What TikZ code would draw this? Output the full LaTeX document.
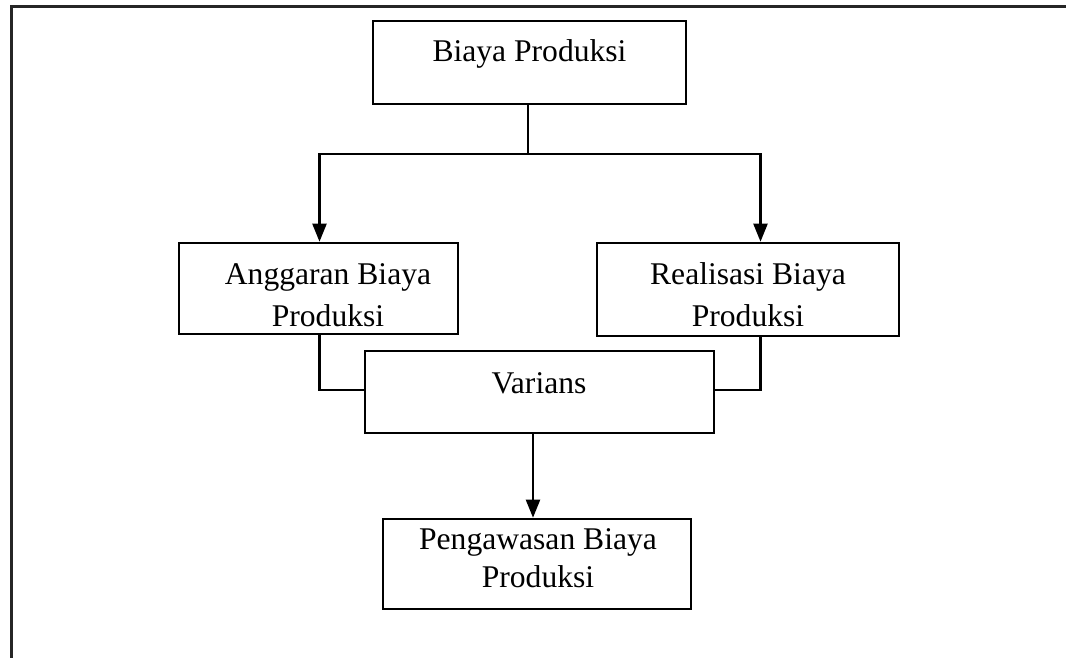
\documentclass[tikz,border=0pt]{standalone}
\usepackage{fontspec}
\setmainfont{Liberation Serif}
\usetikzlibrary{arrows.meta}

\begin{document}
\begin{tikzpicture}[x=0.5pt,y=-0.5pt,inner sep=0pt,
  box/.style={rectangle,draw=black,line width=1.3pt},
  txt/.style={anchor=base,align=center,font=\fontsize{15.8}{21}\selectfont},
  link/.style={line width=1.1pt},
  arr/.style={link,-{Triangle[length=9pt,width=7pt]}}]
\useasboundingbox (0,0) rectangle (1066,658);
\draw [line width=1.2pt,black!85] (11.5,658) -- (11.5,6.5) -- (1066,6.5);
\node at (529.5,62.5) [box,minimum width=156.5pt,minimum height=41.5pt] (Box1) {};
\node at (318.5,288.5) [box,minimum width=139.5pt,minimum height=45.5pt] (Box2) {};
\node at (748,289.5) [box,minimum width=151pt,minimum height=46.5pt] (Box3) {};
\node at (539.5,392) [box,minimum width=174.5pt,minimum height=41pt] (Box4) {};
\node at (537,564) [box,minimum width=154pt,minimum height=45pt] (Box5) {};
\node at (529.5,62) [txt] (Text1) {Biaya Produksi};
\node at (328,326) [txt] (Text2) {Anggaran Biaya\\Produksi};
\node at (748,326) [txt] (Text3) {Realisasi Biaya\\Produksi};
\node at (539,393) [txt] (Text4) {Varians};
\node at (538,587) [txt,font=\fontsize{15.8}{18.7}\selectfont] (Text5) {Pengawasan Biaya\\Produksi};
\coordinate (Split) at (528,154);
\coordinate (LeftTap) at (319.5,0);
\coordinate (RightTap) at (760.5,0);
\coordinate (DownTap) at (533,0);
\draw [link] (Box1.south -| Split) -- (Split);
\draw [arr] (Split) -| (Box2.north -| LeftTap);
\draw [arr] (Split) -| (Box3.north -| RightTap);
\draw [link] (Box2.south -| LeftTap) |- ([yshift=1pt]Box4.west);
\draw [link] (Box3.south -| RightTap) |- ([yshift=1pt]Box4.east);
\draw [arr] (Box4.south -| DownTap) -- (Box5.north -| DownTap);
\end{tikzpicture}
\end{document}
